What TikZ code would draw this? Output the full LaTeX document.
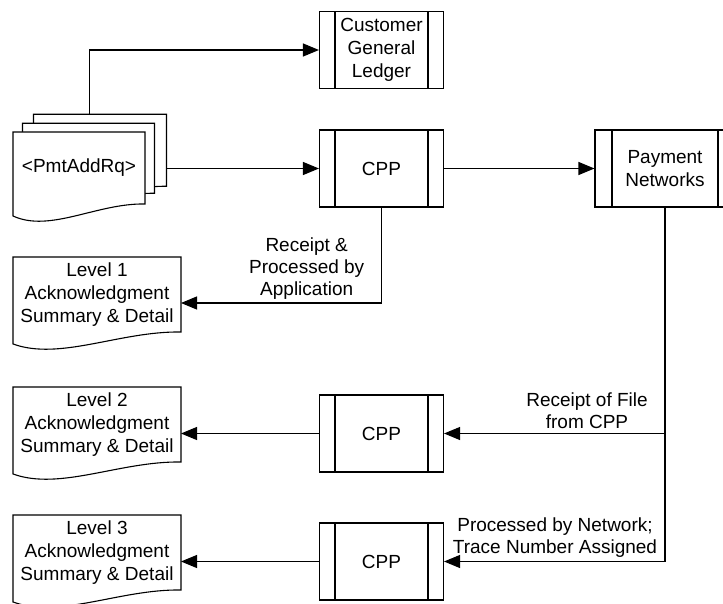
\documentclass[tikz,border=0pt]{standalone}
\usepackage{fontspec}
\setmainfont{Liberation Sans}
\usetikzlibrary{arrows.meta,calc}
\pgfdeclarelayer{background}
\pgfsetlayers{background,main}
\newcommand\docoutline[2][]{\draw[#1] (#2.north west) -- (#2.north east) -- (#2.south east)
  .. controls ($(#2.south west)!0.637!(#2.south east)+(0,-1)$) and ($(#2.south west)!0.28!(#2.south east)+(0,29)$)
  .. ($(#2.south west)+(0,12)$) -- cycle;}
\begin{document}
\begin{tikzpicture}[x=1pt,y=-1pt,
  every node/.style={font=\fontsize{19}{23}\selectfont},
  ln/.style={line width=1.1pt},
  arr/.style={ln,-{Triangle[length=16pt,width=13pt]}},
  proc/.style={draw,ln,minimum width=124pt,minimum height=77pt,inner sep=0pt,align=center,
     path picture={\draw[ln] ([xshift=#1]path picture bounding box.north west) -- ([xshift=#1]path picture bounding box.south west);
                   \draw[ln] ([xshift=-#1]path picture bounding box.north east) -- ([xshift=-#1]path picture bounding box.south east);}},
  proc/.default=15.5pt,
  doc/.style={inner sep=0pt,outer sep=0pt,minimum width=168pt,minimum height=75pt,align=center},
  lbl/.style={align=center,font=\fontsize{19}{22}\selectfont,inner sep=0pt}]
\useasboundingbox (0,0) rectangle (723,604);
\begin{pgfonlayer}{background}\fill[white] (0,0) rectangle (723,604);\end{pgfonlayer}
\clip (0,0) rectangle (723,604);

\node[proc] (cgl) at (381.5,50) {Customer\\General\\Ledger};
\node[proc] (cpp1) at (381.5,168.5) {CPP};
\node[proc=17pt,minimum width=140pt] (pn) at (665,168.5) {Payment\\Networks};
\node[proc] (cpp2) at (381.5,433.5) {CPP};
\node[proc] (cpp3) at (381.5,561.5) {CPP};

\node[doc] (L1) at (97,294.5) {Level 1\\Acknowledgment\\Summary \& Detail};
\node[doc] (L2) at (97,424.5) {Level 2\\Acknowledgment\\Summary \& Detail};
\node[doc] (L3) at (97,552.5) {Level 3\\Acknowledgment\\Summary \& Detail};
\docoutline[ln]{L1}
\docoutline[ln]{L2}
\docoutline[ln]{L3}

\node[doc,minimum width=133pt,minimum height=72pt] (pmtc) at (100,150.3) {};
\node[doc,minimum width=132pt,minimum height=70pt] (pmtb) at (88.5,158.3) {};
\node[doc,minimum width=132pt,minimum height=72pt] (pmt) at (79,168) {<PmtAddRq>};
\begin{pgfonlayer}{background}
\docoutline[ln,fill=white]{pmtc}
\docoutline[ln,fill=white]{pmtb}
\docoutline[ln,fill=white]{pmt}
\end{pgfonlayer}

\coordinate (up) at ($(pmtc.north west)!0.42!(pmtc.north east)$);
\draw[arr] (up) |- (cgl.west);
\draw[arr] (pmtc.east |- cpp1.west) -- (cpp1.west);
\draw[arr] (cpp1.east) -- (pn.west);
\draw[arr] (cpp1.south) |- ($(L1.east)+(0,8.5)$);
\draw[arr] (pn.south) |- (cpp3.east);
\draw[arr] (pn.south |- cpp2.east) -- (cpp2.east);
\draw[arr] (cpp2.west) -- (cpp2.west -| L2.east);
\draw[arr] (cpp3.west) -- (cpp3.west -| L3.east);

\node[lbl] (t1) at (306.7,269) {Receipt \&\\Processed by\\Application};
\node[lbl] (t2) at (587,411) {Receipt of File\\from CPP};
\node[lbl] (t3) at (555,538) {Processed by Network;\\Trace Number Assigned};
\end{tikzpicture}
\end{document}
